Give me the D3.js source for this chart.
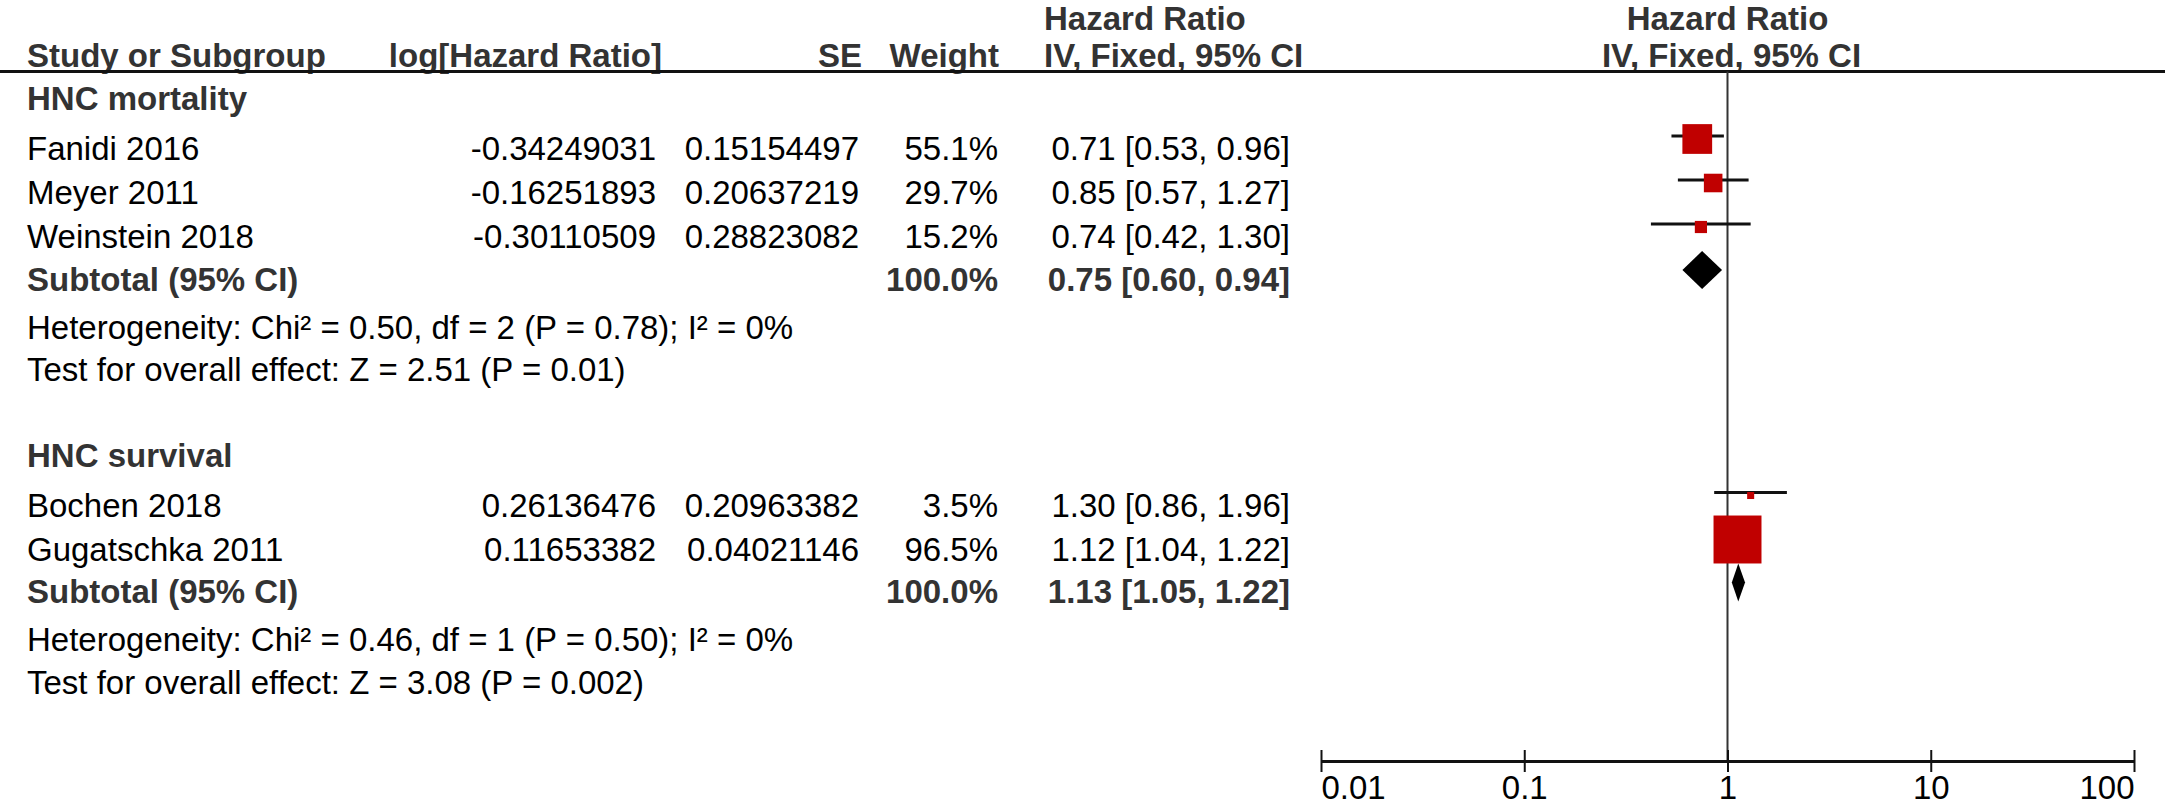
<!DOCTYPE html>
<html>
<head>
<meta charset="utf-8">
<script src="https://cdn.jsdelivr.net/npm/d3@7"></script>
<style>
  body { margin: 0; background: #fff; }
  svg { display: block; font-family: "Liberation Sans", Arial, sans-serif; }
</style>
</head>
<body>
<svg id="chart"></svg>
<script>
// data
const groupNames = ["HNC mortality", "HNC survival"];
const studyNames = ["Fanidi 2016", "Meyer 2011", "Weinstein 2018", "Bochen 2018", "Gugatschka 2011"];
const studyGroup = [0, 0, 0, 1, 1];
const logHR = ["-0.34249031", "-0.16251893", "-0.30110509", "0.26136476", "0.11653382"];
const seValues = ["0.15154497", "0.20637219", "0.28823082", "0.20963382", "0.04021146"];
const weights = [55.1, 29.7, 15.2, 3.5, 96.5];
const hr = [0.71, 0.85, 0.74, 1.30, 1.12];
const hrLow = [0.53, 0.57, 0.42, 0.86, 1.04];
const hrHigh = [0.96, 1.27, 1.30, 1.96, 1.22];
const subHR = [0.75, 1.13];
const subLow = [0.60, 1.05];
const subHigh = [0.94, 1.22];
const hetText = [
  "Heterogeneity: Chi\u00b2 = 0.50, df = 2 (P = 0.78); I\u00b2 = 0%",
  "Heterogeneity: Chi\u00b2 = 0.46, df = 1 (P = 0.50); I\u00b2 = 0%"
];
const testText = [
  "Test for overall effect: Z = 2.51 (P = 0.01)",
  "Test for overall effect: Z = 3.08 (P = 0.002)"
];
const axisTicks = [0.01, 0.1, 1, 10, 100];

const width = 2165, height = 807;
const fs = 33;
const red = "#c00000", boldCol = "#333";

const svg = d3.select("#chart").attr("width", width).attr("height", height);

const x = d3.scaleLog().domain([0.01, 100]).range([1321, 2134]);
const boxSize = d3.scaleLinear().domain([0, 100]).range([5.5, 49.5]);

// columns (right edges unless noted)
const col = { name: 27, logHR: 656, se: 859, weight: 998, ci: 1290, ciHead: 1044 };

function txt(xp, yp, s, opts = {}) {
  return svg.append("text")
    .attr("x", xp).attr("y", yp)
    .attr("font-size", fs)
    .attr("font-weight", opts.bold ? "bold" : null)
    .attr("fill", opts.bold ? boldCol : "#000")
    .attr("text-anchor", opts.anchor || "start")
    .text(s);
}

// header
txt(col.ciHead, 30, "Hazard Ratio", { bold: true });
txt(x(1), 30, "Hazard Ratio", { bold: true, anchor: "middle" });
txt(col.name, 67, "Study or Subgroup", { bold: true });
txt(662, 67, "log[Hazard Ratio]", { bold: true, anchor: "end" });
txt(862, 67, "SE", { bold: true, anchor: "end" });
txt(999, 67, "Weight", { bold: true, anchor: "end" });
txt(col.ciHead, 67, "IV, Fixed, 95% CI", { bold: true });
txt(x(1) + 4, 67, "IV, Fixed, 95% CI", { bold: true, anchor: "middle" });

svg.append("line")
  .attr("x1", 0).attr("x2", width).attr("y1", 71.5).attr("y2", 71.5)
  .attr("stroke", "#111").attr("stroke-width", 3);

// null line
const axisY = 761;
svg.append("line")
  .attr("x1", x(1)).attr("x2", x(1)).attr("y1", 71.5).attr("y2", axisY)
  .attr("stroke", "#333").attr("stroke-width", 2);

// rows layout
let y = 110;
const gap = { header: 50, study: 44, subtotal: 42.5, het: 48, test: 42.5, group: 85.5 };
const fmt = d3.format(".2f");

groupNames.forEach((g, gi) => {
  txt(col.name, y, g, { bold: true });
  const idx = studyNames.map((_, i) => i).filter(i => studyGroup[i] === gi);
  idx.forEach((i, k) => {
    y += k === 0 ? gap.header : gap.study;
    txt(col.name, y, studyNames[i]);
    txt(col.logHR, y, logHR[i], { anchor: "end" });
    txt(col.se, y, seValues[i], { anchor: "end" });
    txt(col.weight, y, d3.format(".1f")(weights[i]) + "%", { anchor: "end" });
    txt(col.ci, y, `${fmt(hr[i])} [${fmt(hrLow[i])}, ${fmt(hrHigh[i])}]`, { anchor: "end" });

    svg.append("line")
      .attr("x1", x(hrLow[i])).attr("x2", x(hrHigh[i]))
      .attr("y1", y - 24).attr("y2", y - 24)
      .attr("stroke", "#111").attr("stroke-width", 3);
    const s = boxSize(weights[i]);
    svg.append("rect")
      .attr("x", x(hr[i]) - s / 2).attr("y", y - 21 - s / 2)
      .attr("width", s).attr("height", s)
      .attr("fill", red);
  });

  y += gap.subtotal;
  txt(col.name, y, "Subtotal (95% CI)", { bold: true });
  txt(col.weight, y, "100.0%", { bold: true, anchor: "end" });
  txt(col.ci, y, `${fmt(subHR[gi])} [${fmt(subLow[gi])}, ${fmt(subHigh[gi])}]`, { bold: true, anchor: "end" });
  const cy = y - 20.5, h = 19;
  svg.append("path")
    .attr("d", `M${x(subLow[gi])},${cy} L${x(subHR[gi])},${cy - h} L${x(subHigh[gi])},${cy} L${x(subHR[gi])},${cy + h} Z`)
    .attr("fill", "#000");

  y += gap.het;
  txt(col.name, y, hetText[gi]);
  y += gap.test;
  txt(col.name, y, testText[gi]);
  y += gap.group;
});

// axis
const axis = svg.append("g")
  .attr("transform", `translate(0,${axisY})`)
  .call(d3.axisBottom(x).tickValues(axisTicks).tickFormat(d3.format("~g")).tickSizeOuter(0));

axis.select(".domain").attr("stroke", "#111").attr("stroke-width", 3);
axis.selectAll(".tick line").attr("y1", -11).attr("y2", 11)
  .attr("stroke", "#111").attr("stroke-width", 2);
axis.selectAll(".tick text")
  .attr("dy", null).attr("y", 38)
  .attr("font-size", fs).attr("font-family", "Liberation Sans, Arial, sans-serif")
  .attr("fill", "#000")
  .attr("text-anchor", (d, i) => i === 0 ? "start" : (i === axisTicks.length - 1 ? "end" : "middle"));
</script>
</body>
</html>
